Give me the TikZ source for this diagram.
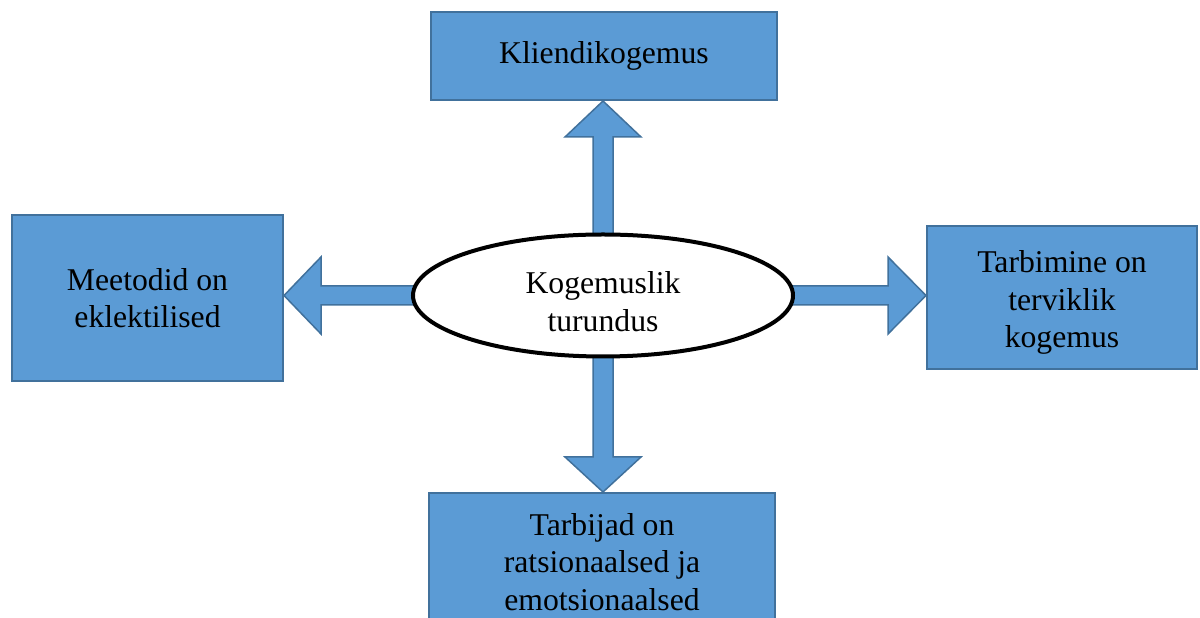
\documentclass[tikz,border=0pt]{standalone}
\usepackage{fontspec}
\setmainfont{Liberation Serif}
\usetikzlibrary{calc,shapes.geometric}
\definecolor{boxfill}{HTML}{5B9BD5}
\definecolor{boxline}{HTML}{41719C}
\tikzset{
  bluebox/.style={draw=boxline, fill=boxfill, line width=2pt, inner sep=0pt, align=center,
    font=\fontsize{31.7}{37.5}\selectfont},
  blockarrow/.style={draw=boxline, fill=boxfill, line width=1.5pt, line join=miter},
  centre/.style={ellipse, draw=black, fill=white, line width=4pt, inner sep=0pt},
  plaintext/.style={font=\fontsize{31.7}{37.5}\selectfont, align=center, inner sep=0pt}
}
\begin{document}
\begin{tikzpicture}[x=1pt,y=1pt]
\useasboundingbox (0,0) rectangle (1200,618);
\clip (0,0) rectangle (1200,618);
\node[bluebox, minimum width=346pt, minimum height=88pt] (top) at (604,562) {Kliendikogemus};
\node[bluebox, minimum width=271pt, minimum height=166pt] (left) at (147.5,320) {Meetodid on\\eklektilised};
\node[bluebox, minimum width=270pt, minimum height=143pt] (right) at (1062,320.5) {};
\node[plaintext] (righttext) at ($(right.center)+(0,-5)$) {Tarbimine on\\terviklik\\kogemus};
\node[bluebox, minimum width=346pt, minimum height=138pt] (bot) at (602,56) {Tarbijad on\\ratsionaalsed ja\\emotsionaalsed};
\coordinate (c) at (603,322.5);
\path (c) ++(0,62) coordinate (cn) (c) ++(0,-62) coordinate (cs)
      (c) ++(-190,0) coordinate (cw) (c) ++(190,0) coordinate (ce);
% up arrow
\draw[blockarrow] let \p1=(cn), \p2=(top.south) in
  (\x1-10pt,\y1-6pt) -- (\x1-10pt,\y2-36pt) -- (\x1-38pt,\y2-36pt) -- (\x1,\y2)
  -- (\x1+38pt,\y2-36pt) -- (\x1+10pt,\y2-36pt) -- (\x1+10pt,\y1-6pt) -- cycle;
% down arrow
\draw[blockarrow] let \p1=(cs), \p2=(bot.north) in
  (\x1-10pt,\y1+6pt) -- (\x1-10pt,\y2+35pt) -- (\x1-38pt,\y2+35pt) -- (\x1,\y2)
  -- (\x1+38pt,\y2+35pt) -- (\x1+10pt,\y2+35pt) -- (\x1+10pt,\y1+6pt) -- cycle;
% left arrow
\draw[blockarrow] let \p1=(cw), \p2=(left.east) in
  (\x1+6pt,\y1-9.5pt) -- (\x2+37pt,\y1-9.5pt) -- (\x2+37pt,\y1-38.5pt) -- (\x2,\y1)
  -- (\x2+37pt,\y1+38.5pt) -- (\x2+37pt,\y1+9.5pt) -- (\x1+6pt,\y1+9.5pt) -- cycle;
% right arrow
\draw[blockarrow] let \p1=(ce), \p2=(right.west) in
  (\x1-6pt,\y1-9.5pt) -- (\x2-38pt,\y1-9.5pt) -- (\x2-38pt,\y1-38.5pt) -- (\x2,\y1)
  -- (\x2-38pt,\y1+38.5pt) -- (\x2-38pt,\y1+9.5pt) -- (\x1-6pt,\y1+9.5pt) -- cycle;
\node[centre, minimum width=380pt, minimum height=122pt] (ell) at (c) {};
\node[plaintext] (elltext) at ($(ell.center)+(0,-6)$) {Kogemuslik\\turundus};
\end{tikzpicture}
\end{document}
